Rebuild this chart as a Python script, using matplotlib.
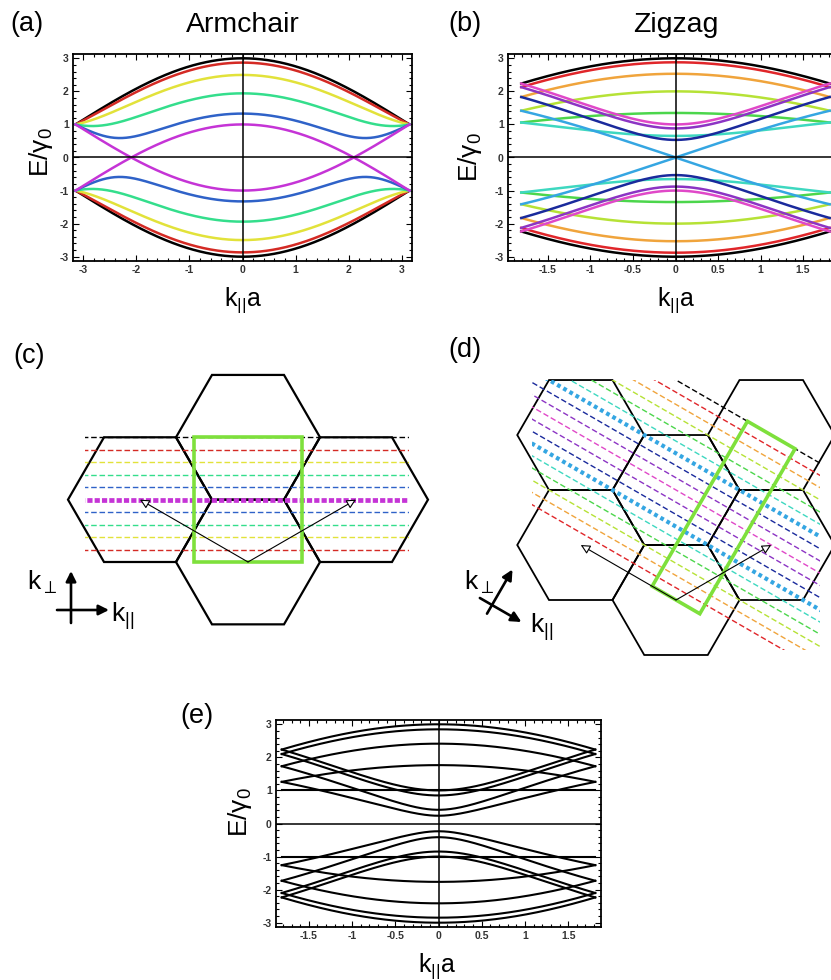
import numpy as np
import matplotlib
matplotlib.use('Agg')
import matplotlib.pyplot as plt
from matplotlib.patches import Polygon, Rectangle, FancyArrowPatch
from matplotlib.ticker import MultipleLocator, FormatStrFormatter

plt.rcParams['font.family'] = ['Liberation Sans', 'DejaVu Sans']
plt.rcParams['mathtext.fontset'] = 'custom'
plt.rcParams['mathtext.rm'] = 'Liberation Sans'
plt.rcParams['mathtext.it'] = 'Liberation Sans:italic'
plt.rcParams['axes.unicode_minus'] = False

# tubes: (5,5) armchair, (9,0) metallic zigzag, (8,0) semiconducting zigzag
armchair_n = 5
zigzag_n = 9
zigzag_gap_n = 8

armchair_colors = ['#000000', '#d42a24', '#e2e23a', '#34de8c', '#2f62c8', '#c534d6']
zigzag_colors = ['#000000', '#e0262a', '#f0a43c', '#b6e236', '#4cd64c',
                 '#3ed8c0', '#35a6e2', '#1a2a9c', '#8c34c4', '#e048c8']

e_ticks = [-3, -2, -1, 0, 1, 2, 3]
armchair_k_ticks = [-3, -2, -1, 0, 1, 2, 3]
zigzag_k_ticks = [-1.5, -1, -0.5, 0, 0.5, 1, 1.5]

# reciprocal lattice of graphene, in units of the Gamma-K distance
b1 = np.array([-1.5, np.sqrt(3) / 2])
b2 = np.array([1.5, np.sqrt(3) / 2])
hex_cells_c = [(0, 0), (1, 0), (0, 1), (1, 1)]
hex_cells_d = [(0, 0), (1, 0), (0, 1), (1, 1), (2, 1), (1, 2)]


def armchair_band(k, n, q):
    c = np.cos(q * np.pi / n)
    h = np.cos(k / 2)
    return np.sqrt(np.clip(1 + 4 * c * h + 4 * h ** 2, 0, None))


def zigzag_band(k, n, q):
    c = np.cos(q * np.pi / n)
    return np.sqrt(np.clip(1 + 4 * c * np.cos(np.sqrt(3) * k / 2) + 4 * c ** 2, 0, None))


W, H = 831, 980
fig = plt.figure(figsize=(W / 100, H / 100), dpi=100)


def add_box(left, top, right, bottom):
    return fig.add_axes([left / W, 1 - bottom / H, (right - left) / W, (bottom - top) / H])


def frame(ax, xlim, xticks, xminor):
    ax.set_xlim(-xlim, xlim)
    ax.set_ylim(-3.13, 3.13)
    ax.set_xticks(xticks)
    ax.set_yticks(e_ticks)
    ax.xaxis.set_minor_locator(MultipleLocator(xminor))
    ax.yaxis.set_minor_locator(MultipleLocator(0.2))
    ax.xaxis.set_major_formatter(FormatStrFormatter('%g'))
    ax.tick_params(which='both', direction='in', top=True, right=True,
                   width=0.8, labelsize=7.5, labelcolor='#333333', pad=3)
    ax.tick_params(which='major', length=4)
    ax.tick_params(which='minor', length=2)
    for lab in ax.get_xticklabels() + ax.get_yticklabels():
        lab.set_fontweight('bold')
    ax.axhline(0, color='k', lw=1.1, zorder=4)
    ax.axvline(0, color='k', lw=1.1, zorder=4)
    for sp in ax.spines.values():
        sp.set_linewidth(1.3)


# (a) armchair bands
ax_a = add_box(73, 54, 412, 261)
k = np.linspace(-np.pi, np.pi, 600)
for q in range(armchair_n + 1):
    e = armchair_band(k, armchair_n, q)
    for sgn in (1, -1):
        ax_a.plot(k, sgn * e, color=armchair_colors[q], lw=1.8)
frame(ax_a, 3.19, armchair_k_ticks, 0.2)

# (b) metallic zigzag bands
ax_b = add_box(508, 54, 843, 261)
kz = np.linspace(-np.pi / np.sqrt(3), np.pi / np.sqrt(3), 600)
for q in range(zigzag_n + 1):
    e = zigzag_band(kz, zigzag_n, q)
    for sgn in (1, -1):
        ax_b.plot(kz, sgn * e, color=zigzag_colors[q], lw=1.8)
frame(ax_b, 1.97, zigzag_k_ticks, 0.1)

# (e) semiconducting zigzag bands
ax_e = add_box(276, 720, 601, 927)
for q in range(zigzag_gap_n + 1):
    e = zigzag_band(kz, zigzag_gap_n, q)
    for sgn in (1, -1):
        ax_e.plot(kz, sgn * e, color='k', lw=1.5)
frame(ax_e, 1.88, zigzag_k_ticks, 0.1)

# overlay in pixel coordinates for the zone-folding sketches and labels
ov = fig.add_axes([0, 0, 1, 1])
ov.set_xlim(0, W)
ov.set_ylim(H, 0)
ov.axis('off')


def to_px(origin, s, v):
    return origin[0] + s * v[0], origin[1] - s * v[1]


def draw_zone(origin, s, cells, K1, K2, N, colors, thick, thick_style, clip, hex_lw):
    ang = np.radians(np.arange(6) * 60)
    for i, j in cells:
        cx, cy = to_px(origin, s, i * b1 + j * b2)
        ov.add_patch(Polygon(np.column_stack([cx + s * np.cos(ang), cy - s * np.sin(ang)]),
                             closed=True, fill=False, ec='k', lw=hex_lw, zorder=2))
    x0, x1, y0, y1 = clip
    box = Rectangle((origin[0] + s * x0, origin[1] - s * y1), s * (x1 - x0), s * (y1 - y0),
                    transform=ov.transData, fill=False, lw=0)
    ov.add_patch(box)
    d = K2 / np.linalg.norm(K2)
    for mu in range(1, N + 1):
        q = mu if mu <= N // 2 else N - mu
        p = mu * K1
        a = to_px(origin, s, p - 8 * d)
        b = to_px(origin, s, p + 8 * d)
        if q in thick:
            ln, = ov.plot([a[0], b[0]], [a[1], b[1]], color=colors[q], zorder=3, **thick_style)
        else:
            ln, = ov.plot([a[0], b[0]], [a[1], b[1]], color=colors[q], lw=1.0,
                          ls=(0, (4, 2)), zorder=3)
        ln.set_clip_path(box)
    # one-dimensional Brillouin zone of the tube
    corners = [-K2 / 2, K2 / 2, N * K1 + K2 / 2, N * K1 - K2 / 2]
    ov.add_patch(Polygon([to_px(origin, s, c) for c in corners], closed=True, fill=False,
                         ec='#7ee03c', lw=2.6, zorder=4))
    for bv in (b1, b2):
        ov.add_patch(FancyArrowPatch(to_px(origin, s, np.zeros(2)), to_px(origin, s, bv),
                                     arrowstyle='-|>', mutation_scale=14, lw=0.8,
                                     fc='white', ec='k', shrinkA=0, shrinkB=0, zorder=5))


# (c) armchair cutting lines
draw_zone((248, 562), 72, hex_cells_c,
          K1=(b1 + b2) / (2 * armchair_n), K2=(b2 - b1) / 2, N=2 * armchair_n,
          colors=armchair_colors, thick=[armchair_n],
          thick_style=dict(lw=3.4, ls=(0, (1.1, 0.45))),
          clip=(-2.27, 2.23, -1.5, 3.0), hex_lw=1.6)

# (d) zigzag cutting lines
draw_zone((676, 600), 63.5, hex_cells_d,
          K1=(b1 + 2 * b2) / (2 * zigzag_n), K2=-b1 / 2, N=2 * zigzag_n,
          colors=zigzag_colors, thick=[2 * zigzag_n // 3],
          thick_style=dict(lw=3.0, ls=(0, (0.9, 0.8))),
          clip=(-2.27, 2.27, -0.79, 3.46), hex_lw=1.3)

# k-direction indicators
arr = dict(arrowstyle='-|>', mutation_scale=15, lw=1.9, color='k', shrinkA=0, shrinkB=0)
ov.annotate('', xy=(71, 571), xytext=(71, 623), arrowprops=arr)
ov.annotate('', xy=(109, 610), xytext=(57, 610), arrowprops=arr)
ov.text(27, 590, r'$\mathregular{k_{\perp}}$', fontsize=19, va='baseline')
ov.text(111, 622, r'$\mathregular{k_{||}}$', fontsize=19, va='baseline')

cross = np.array([492, 605])
u_perp = np.array([0.5, -np.sqrt(3) / 2])
u_par = np.array([np.sqrt(3) / 2, 0.5])
ov.annotate('', xy=cross + 41 * u_perp, xytext=cross - 10 * u_perp, arrowprops=arr)
ov.annotate('', xy=cross + 34 * u_par, xytext=cross - 14 * u_par, arrowprops=arr)
ov.text(464, 590, r'$\mathregular{k_{\perp}}$', fontsize=19, va='baseline')
ov.text(530, 633, r'$\mathregular{k_{||}}$', fontsize=19, va='baseline')

# titles, panel letters, axis labels
ov.text(243, 32, 'Armchair', fontsize=20.5, ha='center', va='baseline')
ov.text(676, 32, 'Zigzag', fontsize=20.5, ha='center', va='baseline')
for lab, x, y in [('(a)', 10, 24), ('(b)', 448, 24), ('(c)', 13, 356),
                  ('(d)', 448, 350), ('(e)', 180, 716)]:
    ov.text(x, y, lab, fontsize=19.5, ha='left', va='center')

ylab = r'$\mathregular{E/\gamma_0}$'
xlab = r'$\mathregular{k_{||}a}$'
for x, y in [(41, 152), (470, 157), (240, 812)]:
    ov.text(x, y, ylab, fontsize=19, rotation=90, ha='center', va='center')
for x, y in [(243, 306), (676, 306), (437, 972)]:
    ov.text(x, y, xlab, fontsize=18, ha='center', va='baseline')

fig.savefig('out.png', dpi=100)
